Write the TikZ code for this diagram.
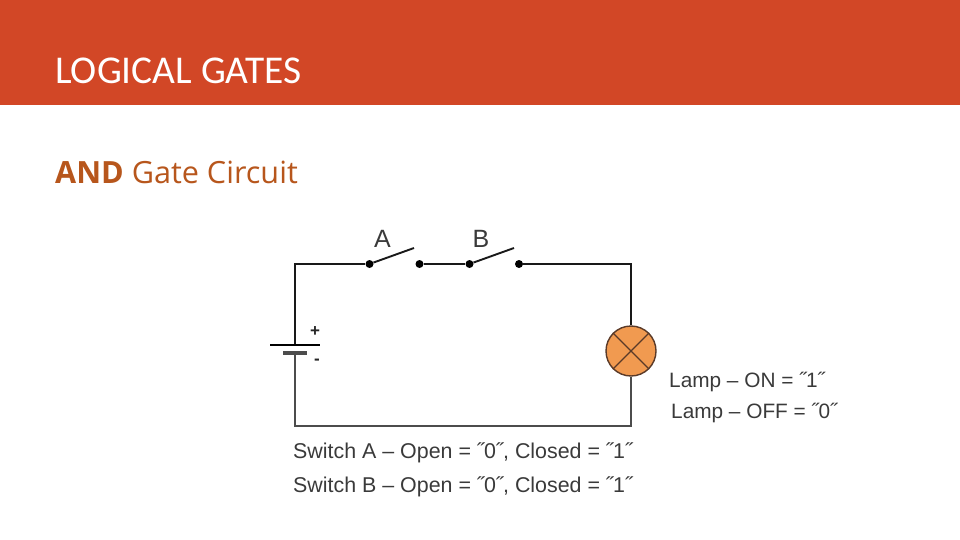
\documentclass[tikz,border=0pt]{standalone}
\usepackage{fontspec}
\setmainfont{Liberation Sans}
\newfontfamily\titlefont{Carlito}
\newfontfamily\bodyfont{Open Sans}
\definecolor{banner}{HTML}{D24726}
\definecolor{accent}{HTML}{B7561C}
\definecolor{lampfill}{HTML}{F19A50}
\definecolor{lampline}{HTML}{5A3A28}
\definecolor{labelcol}{HTML}{3A3A3A}
\tikzset{
  wire/.style={draw=black!90,line width=1.9pt},
  terminal/.style={circle,fill=black,inner sep=0pt,minimum size=8pt},
  lbl/.style={anchor=base west,inner sep=0pt,text=labelcol,font=\fontsize{21.4}{21.4}\selectfont},
  lamplbl/.style={anchor=base west,inner sep=0pt,text=labelcol,font=\fontsize{20.8}{20.8}\selectfont},
  swname/.style={anchor=base,inner sep=0pt,text=labelcol,font=\fontsize{25}{25}\selectfont},
  lamp/.style={circle,draw=lampline,fill=lampfill,line width=1.4pt,minimum size=50pt,inner sep=0pt},
}
\begin{document}
\begin{tikzpicture}[x=1pt,y=-1pt]
\useasboundingbox (0,0) rectangle (960,540);
\fill[banner] (0,0) rectangle (960,105);
\node[anchor=base west,inner sep=0pt,text=white,font=\titlefont\fontsize{39.4}{39.4}\selectfont] (title) at (55,84) {LOGICAL GATES};
\node[anchor=base west,inner sep=0pt,text=accent,font=\bodyfont\fontsize{30.6}{30.6}\selectfont] (sub) at (55,183) {\textbf{AND} Gate Circuit};
% terminals
\node[terminal] (a1) at (369.5,264) {};
\node[terminal] (a2) at (419.5,264) {};
\node[terminal] (b1) at (469.5,264) {};
\node[terminal] (b2) at (519,264) {};
\node[lamp] (L) at (631,351) {};
\coordinate (tl) at (295,264);
\coordinate (tr) at (631,264);
\coordinate (bl) at (295,426);
\coordinate (br) at (631,426);
\coordinate (pos) at (295,345);
\coordinate (neg) at (295,353);
\coordinate (ablade) at (414,248);
\coordinate (bblade) at (514,248);
% wires
\draw[wire] (pos) -- (tl) -- (a1);
\draw[wire] (a2) -- (b1);
\draw[wire] (b2) -- (tr) -- (L.north);
\draw[wire,draw=black!70] (L.south) -- (br) -- (bl) -- (neg);
\draw[wire] (a1) -- (ablade);
\draw[wire] (b1) -- (bblade);
% battery
\draw[black,line width=1.9pt] (270,345) -- (320,345);
\draw[black!70,line width=3.5pt] (283,353) -- (307,353);
% lamp cross
\draw[lampline,line width=1.2pt] (L.north west) -- (L.south east);
\draw[lampline,line width=1.2pt] (L.north east) -- (L.south west);
% labels
\node[swname] (A) at (382.5,247) {A};
\node[swname] (B) at (481,247) {B};
\node[inner sep=0pt,font=\fontsize{17}{17}\selectfont\bfseries,text=black!85] (plus) at (315,332) {+};
\node[inner sep=0pt,font=\fontsize{17}{17}\selectfont\bfseries,text=black!85] (minus) at (317,362) {-};
\node[lamplbl] (lon) at (669,387) {Lamp – ON = ˝1˝};
\node[lamplbl] (loff) at (671,418) {Lamp – OFF = ˝0˝};
\node[lbl] (sa) at (293,458) {Switch A – Open = ˝0˝, Closed = ˝1˝};
\node[lbl] (sb) at (293,492) {Switch B – Open = ˝0˝, Closed = ˝1˝};
\end{tikzpicture}
\end{document}
